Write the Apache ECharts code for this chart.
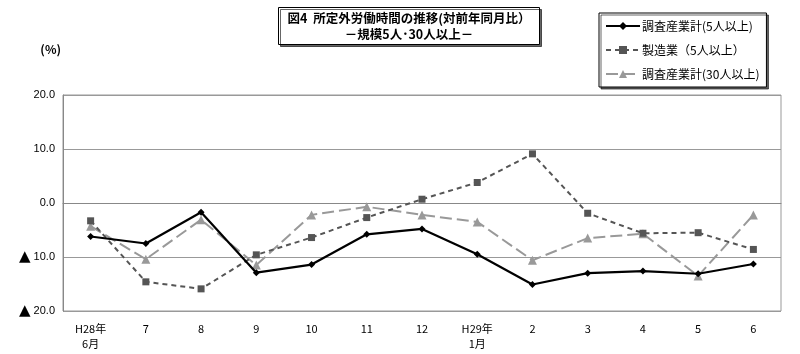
<!DOCTYPE html>
<html>
<head>
<meta charset="utf-8">
<script src="https://cdn.jsdelivr.net/npm/echarts@6/dist/echarts.min.js"></script>
<style>
html,body{margin:0;padding:0;background:#fff;}
#main{width:800px;height:354px;}
</style>
</head>
<body>
<div id="main"></div>
<script>
// 横軸の月
var months = ['H28年\n6月', '7', '8', '9', '10', '11', '12', 'H29年\n1月', '2', '3', '4', '5', '6'];
// 系列名
var seriesNames = ['調査産業計(5人以上)', '製造業（5人以上）', '調査産業計(30人以上)'];
// 対前年同月比(%)
var allInd5 = [-6.2, -7.5, -1.7, -12.9, -11.4, -5.8, -4.8, -9.5, -15.1, -13.0, -12.6, -13.1, -11.3];
var manuf5 = [-3.3, -14.6, -15.9, -9.6, -6.4, -2.7, 0.7, 3.8, 9.1, -1.9, -5.6, -5.5, -8.6];
var allInd30 = [-4.3, -10.4, -3.1, -11.5, -2.2, -0.7, -2.2, -3.5, -10.6, -6.5, -5.7, -13.5, -2.2];
// 縦軸の目盛り
var yMin = -20, yMax = 20, yStep = 10;

var font = '"Noto Sans CJK JP", sans-serif';

var myChart = echarts.init(document.getElementById('main'));
var option = {
    backgroundColor: '#fff',
    animation: false,
    title: {
        text: '図4  所定外労働時間の推移(対前年同月比）\n－規模5人･30人以上－',
        left: 400,
        top: 7,
        textAlign: 'center',
        padding: [3, 9, 3, 9],
        borderColor: '#000',
        borderWidth: 1,
        backgroundColor: '#fff',
        shadowColor: 'rgba(0,0,0,0.6)',
        shadowOffsetX: 2,
        shadowOffsetY: 2,
        textStyle: {
            fontFamily: font,
            fontSize: 12.5,
            fontWeight: 'bold',
            color: '#000',
            lineHeight: 16
        }
    },
    legend: {
        orient: 'vertical',
        left: 599,
        top: 13,
        padding: [7, 7, 7, 6],
        itemGap: 12,
        itemWidth: 34,
        itemHeight: 10,
        borderColor: '#000',
        borderWidth: 1,
        backgroundColor: '#fff',
        shadowColor: 'rgba(0,0,0,0.6)',
        shadowOffsetX: 2,
        shadowOffsetY: 2,
        textStyle: {fontFamily: font, fontSize: 12, color: '#000', padding: [0, 0, 0, -3]},
        data: seriesNames
    },
    grid: {
        left: 63,
        right: 19,
        top: 95,
        bottom: 43,
        show: true,
        borderColor: '#999',
        borderWidth: 1
    },
    xAxis: {
        type: 'category',
        data: months,
        boundaryGap: true,
        axisLine: {lineStyle: {color: '#888'}},
        axisTick: {show: false},
        axisLabel: {
            fontFamily: font,
            fontSize: 11,
            color: '#000',
            margin: 10,
            lineHeight: 15,
            interval: 0
        }
    },
    yAxis: {
        type: 'value',
        min: yMin,
        max: yMax,
        interval: yStep,
        name: '(%)',
        nameLocation: 'end',
        nameGap: 40,
        nameTextStyle: {fontFamily: font, fontSize: 12, fontWeight: 'bold', color: '#000', align: 'right', padding: [0, 2, 0, 0]},
        axisLine: {show: true, lineStyle: {color: '#888'}},
        axisTick: {show: false},
        axisLabel: {
            fontFamily: 'Liberation Sans, sans-serif',
            fontSize: 11,
            color: '#000',
            margin: 8,
            formatter: function (v) {
                return v < 0 ? '{tri|▲} ' + Math.abs(v).toFixed(1) : v.toFixed(1);
            },
            rich: {
                tri: {fontSize: 15, fontFamily: 'DejaVu Sans, sans-serif', color: '#000'}
            }
        },
        splitLine: {
            show: true,
            lineStyle: {color: ['#999', '#999', '#333', '#999', '#999'], width: 1}
        }
    },
    series: [{
        name: seriesNames[0],
        type: 'line',
        data: allInd5,
        symbol: 'diamond',
        symbolSize: 7,
        z: 5,
        itemStyle: {color: '#000'},
        lineStyle: {color: '#000', width: 2.2}
    }, {
        name: seriesNames[1],
        type: 'line',
        data: manuf5,
        symbol: 'rect',
        symbolSize: 7,
        z: 4,
        itemStyle: {color: '#555'},
        lineStyle: {color: '#555', width: 2, type: [5, 4]}
    }, {
        name: seriesNames[2],
        type: 'line',
        data: allInd30,
        symbol: 'triangle',
        symbolSize: 9,
        z: 3,
        itemStyle: {color: '#999'},
        lineStyle: {color: '#999', width: 2, type: [12, 5]}
    }]
};
myChart.setOption(option);
</script>
</body>
</html>
